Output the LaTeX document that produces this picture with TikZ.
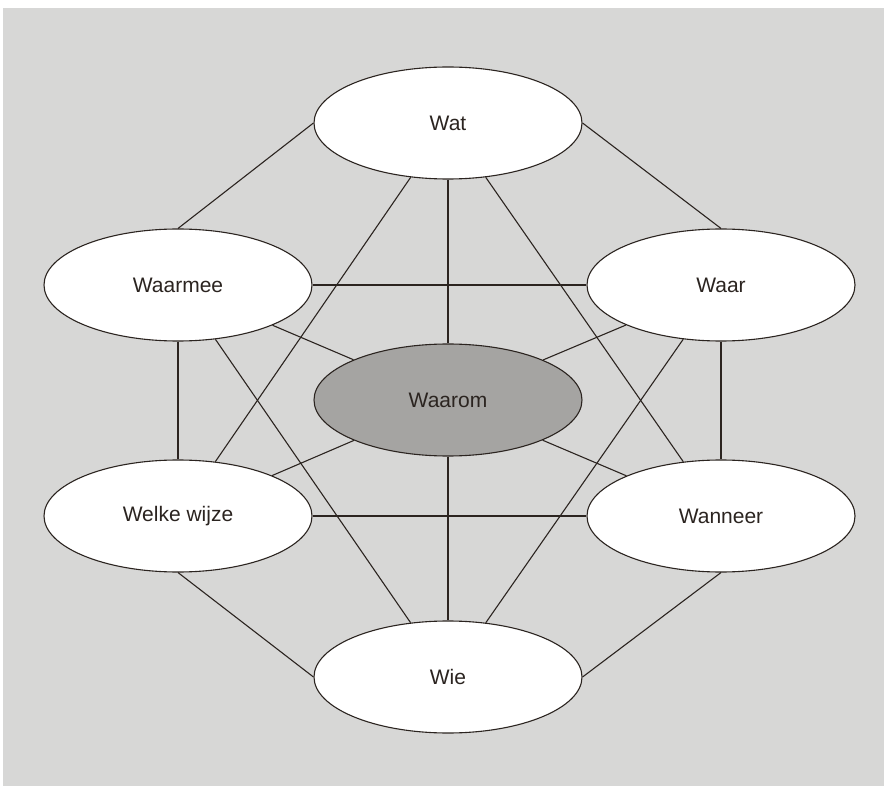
\documentclass[tikz,border=0pt]{standalone}
\usepackage{fontspec}
\setmainfont{Liberation Sans}
\usetikzlibrary{shapes.geometric}
\definecolor{bggray}{HTML}{D7D7D6}
\definecolor{midgray}{HTML}{A5A4A2}
\definecolor{ink}{HTML}{2B2420}
\begin{document}
\begin{tikzpicture}[x=1pt,y=-1pt,
  bubble/.style={ellipse, draw=ink, line width=1.1pt, fill=white,
    minimum width=268pt, minimum height=112pt, inner sep=0pt,
    text=ink, font=\fontsize{21}{24}\selectfont},
  centre/.style={bubble, fill=midgray},
  link/.style={draw=ink, line width=1.1pt}]
\useasboundingbox (0,0) rectangle (884,786);
\fill[bggray] (3,8) rectangle (884,786);
% nodes
\node[bubble] (wat) at (448,123) {Wat};
\node[bubble] (waarmee) at (178,285) {Waarmee};
\node[bubble] (waar) at (721,285) {Waar};
\node[centre] (waarom) at (448,400) {Waarom};
\node[bubble] (welke) at (178,516) {Welke wijze};
\node[bubble] (wanneer) at (721,516) {Wanneer};
\node[bubble] (wie) at (448,677) {Wie};
% outer ring
\path[link] (wat.west) -- (waarmee.north);
\path[link] (wat.east) -- (waar.north);
\path[link] (waarmee.south) -- (welke.north);
\path[link] (waar.south) -- (wanneer.north);
\path[link] (welke.south) -- (wie.west);
\path[link] (wanneer.south) -- (wie.east);
% straight cross links
\path[link] (waarmee) -- (waar);
\path[link] (welke) -- (wanneer);
\path[link] (wat) -- (waarom);
\path[link] (waarom) -- (wie);
% diagonals
\path[link] (wat) -- (welke);
\path[link] (wat) -- (wanneer);
\path[link] (waarmee) -- (wie);
\path[link] (waar) -- (wie);
\path[link] (waarmee) -- (waarom);
\path[link] (waar) -- (waarom);
\path[link] (welke) -- (waarom);
\path[link] (wanneer) -- (waarom);
\end{tikzpicture}
\end{document}
